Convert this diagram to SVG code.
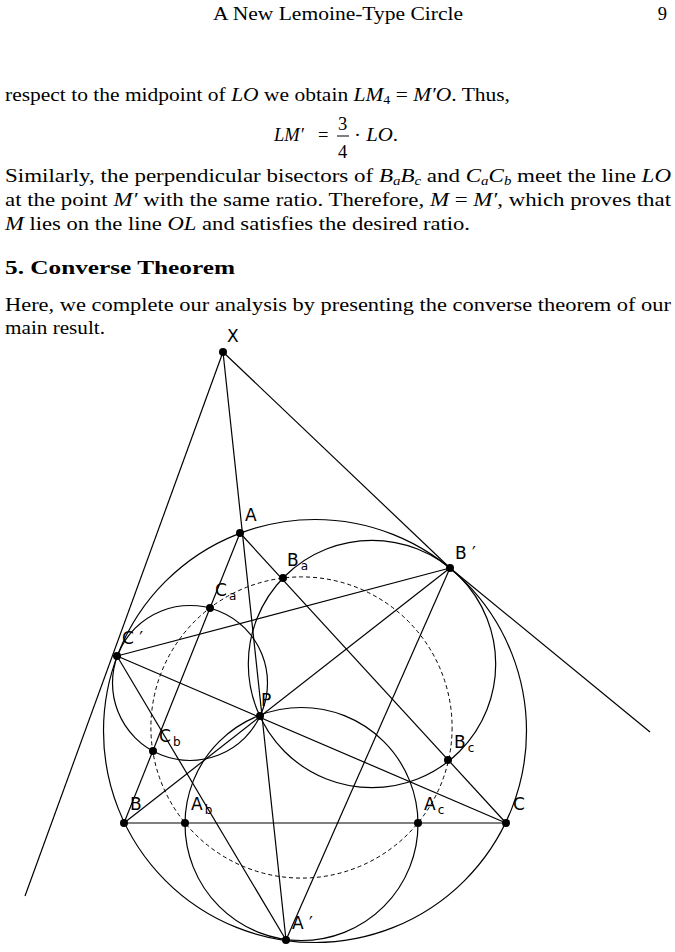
<svg xmlns="http://www.w3.org/2000/svg" width="675" height="952" viewBox="0 0 675 952">
<style>
.t{font-family:"Liberation Serif",serif;font-size:18.5px;fill:#000}
.i{font-style:italic}
.l{font-family:"DejaVu Sans",sans-serif;font-size:17px;fill:#000}
.s{font-size:12px}
.ln{stroke:#000;stroke-width:1.2;fill:none}
.d{stroke:#000;stroke-width:1;fill:none;stroke-dasharray:4,3}
</style>
<rect width="675" height="952" fill="#fff"/>
<text class="t" x="213" y="20" textLength="250" lengthAdjust="spacingAndGlyphs">A New Lemoine-Type Circle</text>
<text class="t" x="667" y="20" text-anchor="end">9</text>
<text class="t" x="5" y="101" textLength="505" lengthAdjust="spacingAndGlyphs">respect to the midpoint of <tspan class="i">LO</tspan> we obtain <tspan class="i">LM</tspan><tspan class="s" dy="3">4</tspan><tspan dy="-3"> = </tspan><tspan class="i">M′O</tspan>. Thus,</text>
<text class="t i" x="274" y="141">LM′</text>
<text class="t" x="318" y="141">=</text>
<text class="t" x="338" y="130">3</text>
<line x1="337" y1="136" x2="349" y2="136" stroke="#000" stroke-width="1"/>
<text class="t" x="338" y="158">4</text>
<text class="t" x="354" y="141" textLength="44" lengthAdjust="spacingAndGlyphs">· <tspan class="i">LO</tspan>.</text>
<text class="t" x="5" y="182" textLength="666" lengthAdjust="spacingAndGlyphs">Similarly, the perpendicular bisectors of <tspan class="i">B</tspan><tspan class="s i" dy="3">a</tspan><tspan class="i" dy="-3">B</tspan><tspan class="s i" dy="3">c</tspan><tspan dy="-3"> and </tspan><tspan class="i">C</tspan><tspan class="s i" dy="3">a</tspan><tspan class="i" dy="-3">C</tspan><tspan class="s i" dy="3">b</tspan><tspan dy="-3"> meet the line </tspan><tspan class="i">LO</tspan></text>
<text class="t" x="5" y="206" textLength="666" lengthAdjust="spacingAndGlyphs">at the point <tspan class="i">M′</tspan> with the same ratio. Therefore, <tspan class="i">M</tspan> = <tspan class="i">M′</tspan>, which proves that</text>
<text class="t" x="5" y="230" textLength="465" lengthAdjust="spacingAndGlyphs"><tspan class="i">M</tspan> lies on the line <tspan class="i">OL</tspan> and satisfies the desired ratio.</text>
<text class="t" x="5" y="274" font-weight="bold" font-size="21" textLength="230" lengthAdjust="spacingAndGlyphs">5.  Converse Theorem</text>
<text class="t" x="5" y="311" textLength="666" lengthAdjust="spacingAndGlyphs">Here, we complete our analysis by presenting the converse theorem of our</text>
<text class="t" x="5" y="334" textLength="100" lengthAdjust="spacingAndGlyphs">main result.</text>

<g id="circles">
<circle class="ln" cx="315" cy="731" r="211.5"/>
<circle class="d" cx="301.5" cy="727.5" r="150.6"/>
<circle class="ln" cx="190" cy="683" r="77.5"/>
<circle class="ln" cx="372" cy="664" r="123.7"/>
<circle class="ln" cx="301.5" cy="824" r="116.5"/>
</g>
<g id="connectors">
<line class="ln" x1="223" y1="352" x2="25" y2="896"/>
<line class="ln" x1="223" y1="352" x2="450" y2="568"/>
<line class="ln" x1="450" y1="568" x2="650" y2="732"/>
<line class="ln" x1="223" y1="352" x2="286" y2="940"/>
<line class="ln" x1="240" y1="533" x2="506" y2="823"/>
<line class="ln" x1="240" y1="533" x2="124" y2="823"/>
<line class="ln" x1="124" y1="823" x2="506" y2="823"/>
<line class="ln" x1="117" y1="656" x2="450" y2="568"/>
<line class="ln" x1="124" y1="823" x2="450" y2="568"/>
<line class="ln" x1="286" y1="940" x2="450" y2="568"/>
<line class="ln" x1="117" y1="656" x2="506" y2="823"/>
<line class="ln" x1="117" y1="656" x2="286" y2="940"/>
</g>
<g id="points" fill="#000">
<g id="X"><circle cx="223" cy="352" r="4"/><text class="l" x="227" y="342">X</text></g>
<g id="A"><circle cx="240" cy="533" r="4"/><text class="l" x="245" y="521">A</text></g>
<g id="Bp"><circle cx="450" cy="568" r="4"/><text class="l" x="455" y="559">B ′</text></g>
<g id="Ba"><circle cx="283" cy="578" r="4"/><text class="l" x="287" y="566">B<tspan class="s" dx="2" dy="4">a</tspan></text></g>
<g id="Ca"><circle cx="210" cy="608" r="4"/><text class="l" x="215" y="596">C<tspan class="s" dx="2" dy="4">a</tspan></text></g>
<g id="Cp"><circle cx="117" cy="656" r="4"/><text class="l" x="122" y="644">C ′</text></g>
<g id="P"><circle cx="260" cy="716" r="4"/><text class="l" x="261" y="706">P</text></g>
<g id="Cb"><circle cx="153" cy="751" r="4"/><text class="l" x="159" y="742">C<tspan class="s" dx="2" dy="4">b</tspan></text></g>
<g id="Bc"><circle cx="448" cy="760" r="4"/><text class="l" x="454" y="748">B<tspan class="s" dx="2" dy="4">c</tspan></text></g>
<g id="B"><circle cx="124" cy="823" r="4"/><text class="l" x="130" y="810">B</text></g>
<g id="Ab"><circle cx="185" cy="823" r="4"/><text class="l" x="191" y="810">A<tspan class="s" dx="2" dy="4">b</tspan></text></g>
<g id="Ac"><circle cx="418" cy="823" r="4"/><text class="l" x="424" y="810">A<tspan class="s" dx="2" dy="4">c</tspan></text></g>
<g id="C"><circle cx="506" cy="823" r="4"/><text class="l" x="513" y="810">C</text></g>
<g id="Ap"><circle cx="286" cy="940" r="4"/><text class="l" x="292" y="929">A ′</text></g>
</g>
</svg>
